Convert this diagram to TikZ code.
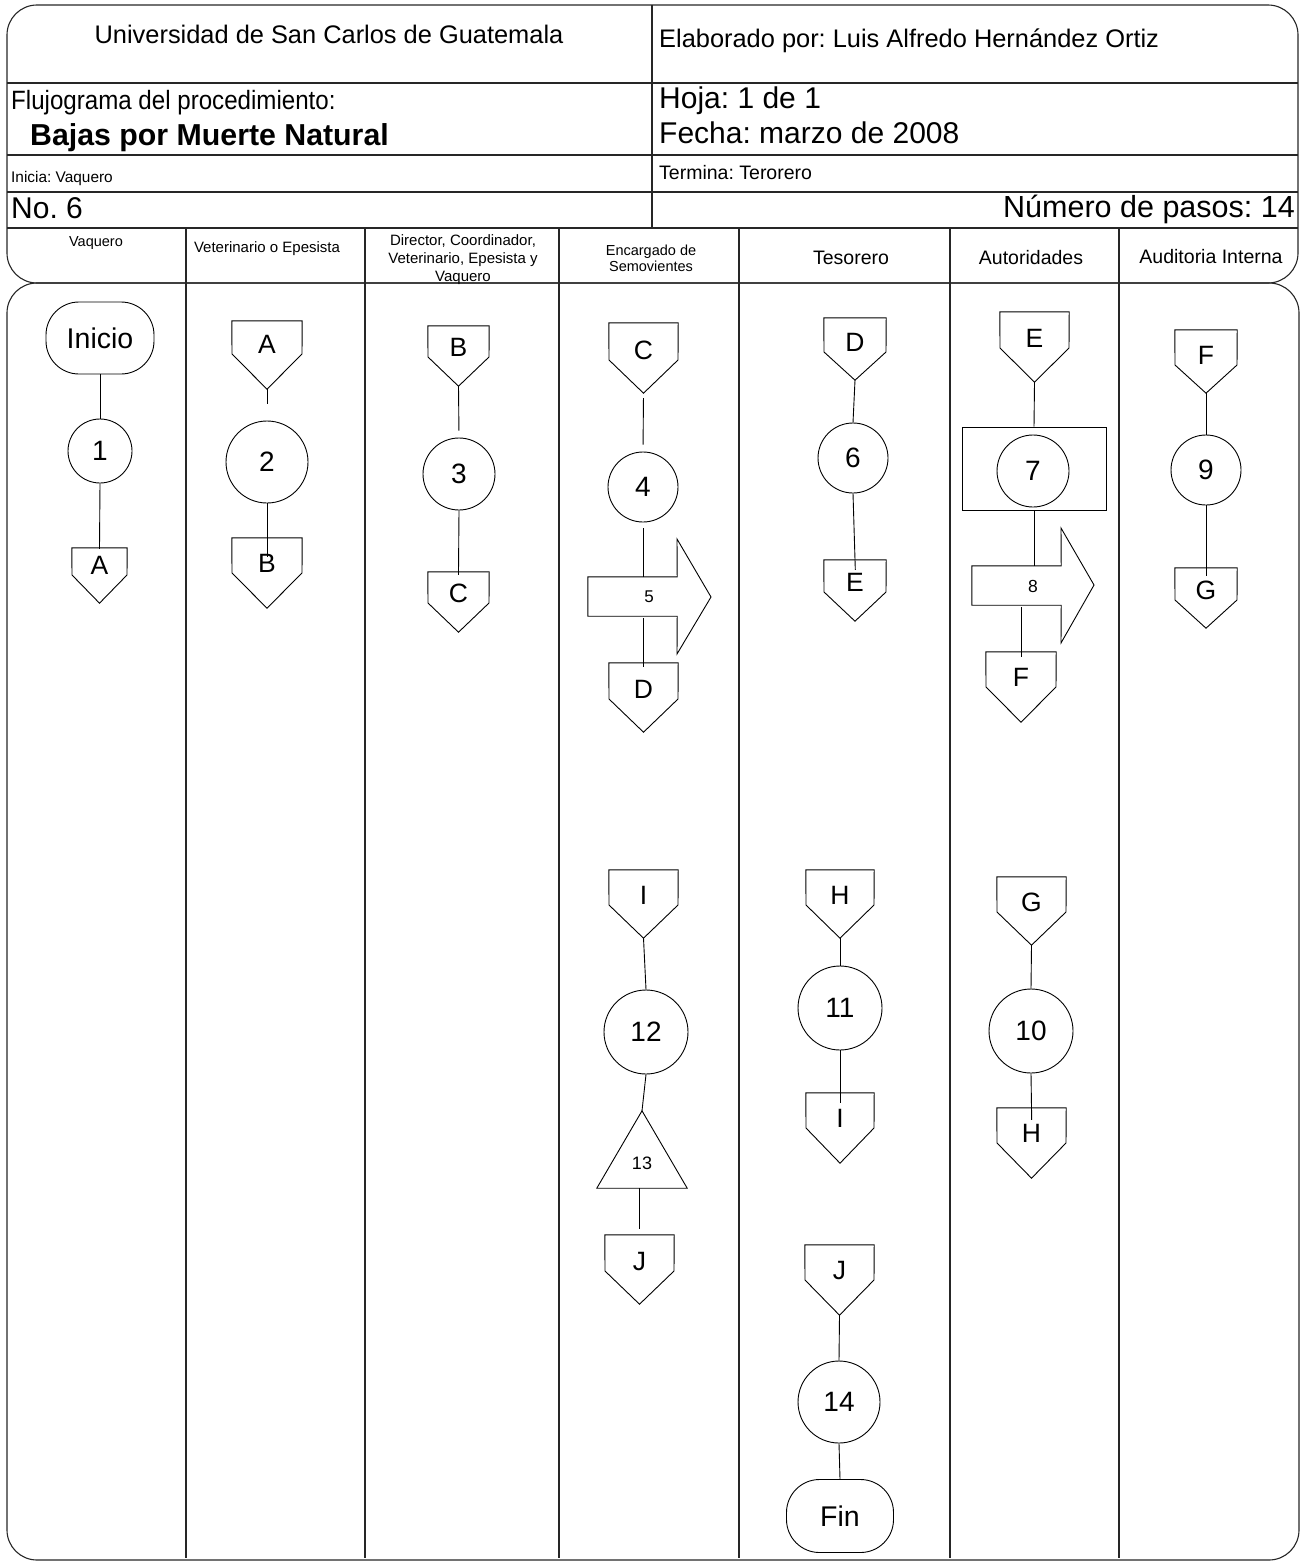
\documentclass[tikz,border=0pt]{standalone}
\usepackage{fontspec}
\setmainfont{Liberation Sans}
\usetikzlibrary{calc}
\frenchspacing
\newcommand\fsz[2]{\fontsize{#1}{#2}\selectfont}
\tikzset{
  shp/.style={draw, line width=0.9pt},
  lbl/.style={inner sep=0, font=\fsz{26.5}{30}},
  circ/.style={circle, draw, line width=0.9pt, inner sep=0, font=\fsz{28}{32}},
  conn/.style={line width=0.9pt},
  frame/.style={line width=1.1pt, draw=black!85},
  txt/.style={inner sep=0, anchor=base west},
  ctxt/.style={inner sep=0, anchor=base},
}
% off-page connector: name, x-left, x-right, top, shoulder, point, label
\newcommand\offpg[7]{%
  \pgfmathsetmacro\opw{#3-#2}\pgfmathsetmacro\oph{#6-#4}%
  \pgfmathsetmacro\opx{(#2+#3)/2}\pgfmathsetmacro\opy{(#4+#6)/2}%
  \pgfmathsetmacro\opl{#5-10}%
  \node[inner sep=0, minimum width=\opw, minimum height=\oph] (#1) at (\opx,\opy) {};
  \draw[shp] (#1.north west) -- (#1.north east) -- (#3,#5) -- (#1.south) -- (#2,#5) -- cycle;
  \node[lbl] (#1-t) at (\opx,\opl) {#7};
}
\begin{document}
\begin{tikzpicture}[x=1pt, y=-1pt]
\useasboundingbox (0,0) rectangle (1304,1562);
% frames
\draw[frame, rounded corners=30] (7,5) rectangle (1298,283);
\draw[frame, rounded corners=30] (7,283) rectangle (1299,1560);
\draw[frame] (652,5) -- (652,228);
\draw[frame] (7,83) -- (1298,83);
\draw[frame] (7,155) -- (1298,155);
\draw[frame] (7,192) -- (1298,192);
\draw[frame] (7,228) -- (1298,228);
\foreach \cx in {186,365,559,739,950,1119} {\draw[frame] (\cx,228) -- (\cx,1558);}
% header texts
\node[ctxt, font=\fsz{25.4}{30}] (univ) at (329,44) {Universidad de San Carlos de Guatemala};
\node[txt, font=\fsz{25.4}{30}] (elab) at (659,48) {Elaborado por: Luis Alfredo Hernández Ortiz};
\node[txt, font=\fsz{26.5}{30}] (fluj) at (11,110) {\scalebox{0.91}[1]{Flujograma del procedimiento:}};
\node[txt, font=\bfseries\fsz{30.3}{34}] (bajas) at (30,146) {Bajas por Muerte Natural};
\node[txt, font=\fsz{30}{34}] (hoja) at (659,109) {Hoja: 1 de 1};
\node[txt, font=\fsz{30}{34}] (fecha) at (659,144) {Fecha: marzo de 2008};
\node[txt, font=\fsz{15.4}{18}] (inicia) at (11,183) {Inicia: Vaquero};
\node[txt, font=\fsz{19.5}{22}] (termina) at (659,180) {Termina: Terorero};
\node[txt, font=\fsz{30}{34}] (numero) at (11,219) {No. 6};
\node[ctxt, anchor=base east, font=\fsz{30.5}{34}] (pasos) at (1295,218) {Número de pasos: 14};
% column headers
\node[ctxt, font=\fsz{14.5}{17}] (h1) at (96,247) {Vaquero};
\node[ctxt, font=\fsz{15}{17}] (h2) at (267,253) {Veterinario o Epesista};
\node[ctxt, font=\fsz{15}{17}] (h3a) at (463,246) {Director, Coordinador,};
\node[ctxt, font=\fsz{15}{17}] (h3b) at (463,263) {Veterinario, Epesista y};
\node[ctxt, font=\fsz{15}{17}] (h3c) at (463,281) {Vaquero};
\node[ctxt, font=\fsz{14.5}{17}] (h4a) at (651,255) {Encargado de};
\node[ctxt, font=\fsz{14.5}{17}] (h4b) at (651,272) {Semovientes};
\node[ctxt, font=\fsz{19.5}{22}] (h5) at (851,265) {Tesorero};
\node[ctxt, font=\fsz{19.5}{22}] (h6) at (1031,265) {Autoridades};
\node[ctxt, font=\fsz{19.5}{22}] (h7) at (1211,263) {Auditoria Interna};
% column 1
\node[shp, rounded corners=33, minimum width=108, minimum height=72, inner sep=0, font=\fsz{28.5}{32}] (ini) at (100,338) {Inicio};
\node[circ, minimum size=64] (c1) at (100,451) {1};
\offpg{A1}{72}{127}{548}{575}{603}{A}
% column 2
\offpg{A2}{232}{302}{321}{354}{389}{A}
\node[circ, minimum size=82] (c2) at (267,462) {2};
\offpg{B2}{232}{302}{538}{573}{608}{B}
% column 3
\offpg{B3}{428}{489}{326}{357}{386}{B}
\node[circ, minimum size=72] (c3) at (459,474) {3};
\offpg{C3}{428}{489}{572}{603}{632}{C}
% column 4
\offpg{C4}{609}{678}{323}{360}{393}{C}
\node[circ, minimum size=70] (c4) at (643,487) {4};
\node[inner sep=0, minimum width=89, minimum height=39] (a5) at (632.5,596.5) {};
\draw[shp] (a5.north west) -- (a5.north east) -- (677,539) -- (711,597) -- (677,654) -- (a5.south east) -- (a5.south west) -- cycle;
\node[inner sep=0, font=\fsz{17}{20}] (a5-t) at (649,597) {5};
\offpg{D4}{609}{678}{663}{699}{732}{D}
\offpg{I4}{609}{678}{870}{905}{938}{I}
\node[circ, minimum size=84] (c12) at (646,1032) {12};
\node[inner sep=0, minimum width=90, minimum height=77] (t13) at (642,1149.5) {};
\draw[shp] (t13.south west) -- (t13.north) -- (t13.south east) -- cycle;
\node[inner sep=0, font=\fsz{18}{20}] (t13-t) at (642,1163) {13};
\offpg{J4}{605}{674}{1235}{1271}{1304}{J}
% column 5
\offpg{D5}{824}{886}{318}{352}{380}{D}
\node[circ, minimum size=70] (c6) at (853,458) {6};
\offpg{E5}{824}{886}{560}{592}{621}{E}
\offpg{H5}{806}{874}{870}{905}{938}{H}
\node[circ, minimum size=84] (c11) at (840,1008) {11};
\offpg{I5}{806}{874}{1093}{1128}{1163}{I}
\offpg{J5}{805}{874}{1245}{1280}{1315}{J}
\node[circ, minimum size=82] (c14) at (839,1402) {14};
\node[shp, rounded corners=33, minimum width=107, minimum height=73, inner sep=0, font=\fsz{28.5}{32}] (fin) at (840,1516) {Fin};
% column 6
\offpg{E6}{1000}{1069}{312}{348}{382}{E}
\node[shp, minimum width=144, minimum height=83, inner sep=0] (r7) at (1034,468.5) {};
\node[circ, minimum size=72] (c7) at (1033,471) {7};
\node[inner sep=0, minimum width=89, minimum height=39] (a8) at (1016.5,585.5) {};
\draw[shp] (a8.north west) -- (a8.north east) -- (1061,528) -- (1094,585) -- (1061,643) -- (a8.south east) -- (a8.south west) -- cycle;
\node[inner sep=0, font=\fsz{17.5}{20}] (a8-t) at (1033,586) {8};
\offpg{F6}{986}{1056}{652}{687}{722}{F}
\offpg{G6}{997}{1066}{877}{912}{945}{G}
\node[circ, minimum size=84] (c10) at (1031,1031) {10};
\offpg{H6}{997}{1066}{1108}{1143}{1178}{H}
% column 7
\offpg{F7}{1175}{1237}{330}{365}{393}{F}
\node[circ, minimum size=70] (c9) at (1206,470) {9};
\offpg{G7}{1175}{1237}{568}{600}{628}{G}
% connectors
\draw[conn] (ini.south) -- (c1.north);
\draw[conn, shorten >=-1] (c1.south) -- (A1.north);
\draw[conn, shorten >=17] (A2.south) -- (c2.north);
\draw[conn, shorten >=-19] (c2.south) -- (B2.north);
\draw[conn, shorten >=7] (B3.south) -- (c3.north);
\draw[conn, shorten >=-3] (c3.south) -- (C3.north);
\draw[conn, shorten <=5, shorten >=7] (C4.south) -- (c4.north);
\draw[conn, shorten <=6] (c4.south) -- (c4.south |- a5.north);
\draw[conn, shorten <=2, shorten >=-4] (a5.south -| D4.north) -- (D4.north);
\draw[conn] (D5.south) -- (c6.north);
\draw[conn, shorten >=-10] (c6.south) -- (E5.north);
\draw[conn] (E6.south) -- (r7.north);
\draw[conn] (r7.south) -- (r7.south |- a8.north);
\draw[conn, shorten <=2, shorten >=-5] (a8.south -| F6.north) -- (F6.north);
\draw[conn] (F7.south) -- (c9.north);
\draw[conn, shorten >=-8] (c9.south) -- (G7.north);
\draw[conn] (I4.south) -- (c12.north);
\draw[conn] (c12.south) -- (t13.north);
\draw[conn, shorten >=6] (t13.south -| J4.north) -- (J4.north);
\draw[conn] (H5.south) -- (c11.north);
\draw[conn, shorten >=-10] (c11.south) -- (I5.north);
\draw[conn] (J5.south) -- (c14.north);
\draw[conn] (c14.south) -- (fin.north);
\draw[conn] (G6.south) -- (c10.north);
\draw[conn, shorten >=-12] (c10.south) -- (H6.north);
\end{tikzpicture}
\end{document}
